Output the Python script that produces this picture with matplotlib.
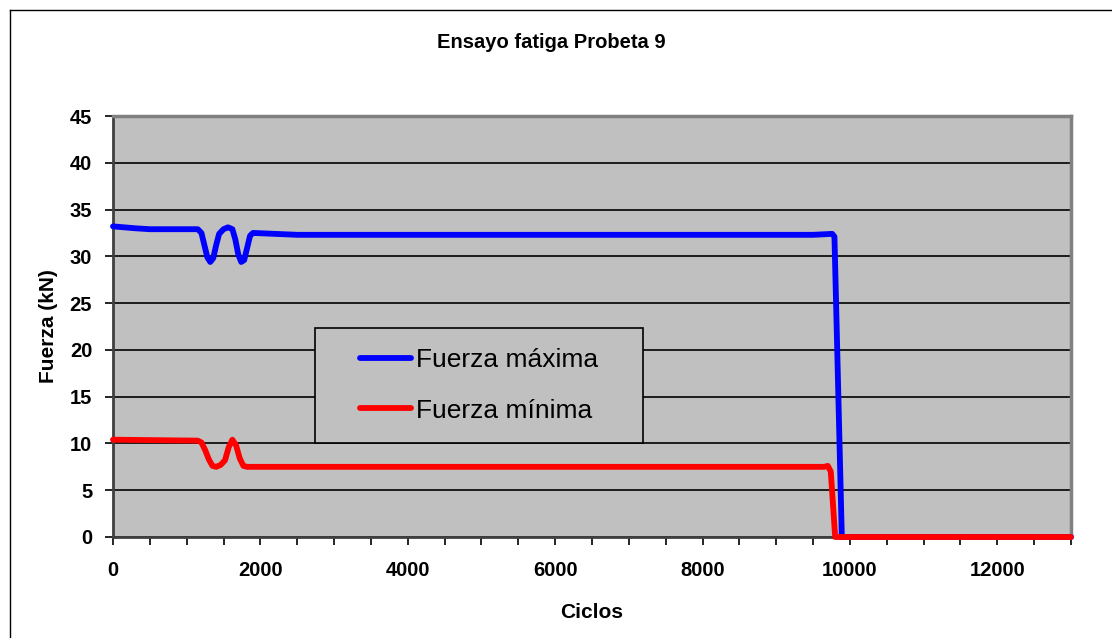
import matplotlib
matplotlib.use("Agg")
import matplotlib.pyplot as plt
from matplotlib.lines import Line2D
from matplotlib.patches import Rectangle
from matplotlib.ticker import MultipleLocator

plt.rcParams["font.family"] = ["Liberation Sans", "DejaVu Sans"]

# Fuerza máxima (kN) frente a ciclos
ciclos_max = [0, 300, 500, 1150, 1200, 1240, 1280, 1320, 1360, 1400, 1440, 1500,
              1560, 1620, 1660, 1700, 1740, 1780, 1820, 1860, 1900, 2500, 4000,
              6000, 8000, 9500, 9760, 9790, 9890, 10500, 13000]
fuerza_max = [33.2, 33.0, 32.9, 32.9, 32.5, 31.2, 29.9, 29.4, 29.8, 31.2, 32.4, 32.9,
              33.1, 32.9, 31.8, 30.2, 29.4, 29.6, 30.9, 32.2, 32.5, 32.3, 32.3,
              32.3, 32.3, 32.3, 32.4, 32.1, 0.0, 0.0, 0.0]

# Fuerza mínima (kN) frente a ciclos
ciclos_min = [0, 1150, 1200, 1250, 1300, 1350, 1400, 1460, 1520, 1570, 1620, 1670,
              1720, 1770, 1820, 2500, 4000, 8000, 9650, 9700, 9740, 9800, 13000]
fuerza_min = [10.4, 10.3, 10.1, 9.3, 8.3, 7.6, 7.5, 7.7, 8.2, 9.6, 10.4, 9.8,
              8.4, 7.6, 7.5, 7.5, 7.5, 7.5, 7.5, 7.6, 7.0, 0.0, 0.0]

fig = plt.figure(figsize=(11.12, 6.38), dpi=100)
ax = fig.add_axes([113 / 1112, 1 - 537 / 638, 958 / 1112, 421 / 638])
ax.set_facecolor("#c0c0c0")

ax.plot(ciclos_max, fuerza_max, color="#0000ff", lw=4.2, label="Fuerza máxima",
        solid_joinstyle="round", solid_capstyle="round", clip_on=False, zorder=3)
ax.plot(ciclos_min, fuerza_min, color="#ff0000", lw=4.2, label="Fuerza mínima",
        solid_joinstyle="round", solid_capstyle="round", clip_on=False, zorder=4)

ax.set_xlim(0, 13000)
ax.set_ylim(0, 45)
ax.xaxis.set_major_locator(MultipleLocator(2000))
ax.xaxis.set_minor_locator(MultipleLocator(500))
ax.yaxis.set_major_locator(MultipleLocator(5))
ax.yaxis.grid(True, color="black", lw=1.2)
ax.set_axisbelow(True)

ax.tick_params(axis="x", which="both", direction="out", length=6, width=1.2,
               color="black", pad=11)
ax.tick_params(axis="x", which="major", labelsize=14.5)
ax.tick_params(axis="y", direction="out", length=6, width=1.2, color="black",
               pad=9, labelsize=14.5)
for lab in ax.get_xticklabels() + ax.get_yticklabels():
    lab.set_fontweight("bold")

for side in ("top", "right"):
    ax.spines[side].set_color("#808080")
    ax.spines[side].set_linewidth(2.5)
ax.spines["left"].set_color("#404040")
ax.spines["left"].set_linewidth(2)
ax.spines["bottom"].set_color("#404040")
ax.spines["bottom"].set_linewidth(2)

# legend box drawn by hand, entries centred inside it
x0, x1 = (315 - 113) / 958, (643 - 113) / 958
y0, y1 = (537 - 443) / 421, (537 - 328) / 421
ax.add_patch(Rectangle((x0, y0), x1 - x0, y1 - y0, transform=ax.transAxes,
                       facecolor="#c0c0c0", edgecolor="black", lw=1.2, zorder=5))
leg = ax.legend(loc="center", bbox_to_anchor=((x0 + x1) / 2, (y0 + y1) / 2),
                frameon=False, fontsize=19, handlelength=1.95, handletextpad=0.2,
                labelspacing=1.0)
leg.set_zorder(6)

fig.text(551 / 1112, 1 - 43 / 638, "Ensayo fatiga Probeta 9", ha="center",
         va="center", fontsize=14.5, fontweight="bold")
fig.text(592 / 1112, 1 - 612 / 638, "Ciclos", ha="center", va="center",
         fontsize=15, fontweight="bold")
fig.text(49 / 1112, 1 - 326 / 638, "Fuerza (kN)", ha="center", va="center",
         rotation=90, fontsize=15, fontweight="bold")

# outer chart frame
fig.add_artist(Line2D([10 / 1112, 10 / 1112], [0, 1 - 10 / 638], color="black",
                      lw=1, transform=fig.transFigure))
fig.add_artist(Line2D([10 / 1112, 1], [1 - 10 / 638, 1 - 10 / 638], color="black",
                      lw=1, transform=fig.transFigure))

fig.savefig("out.png", dpi=100)
